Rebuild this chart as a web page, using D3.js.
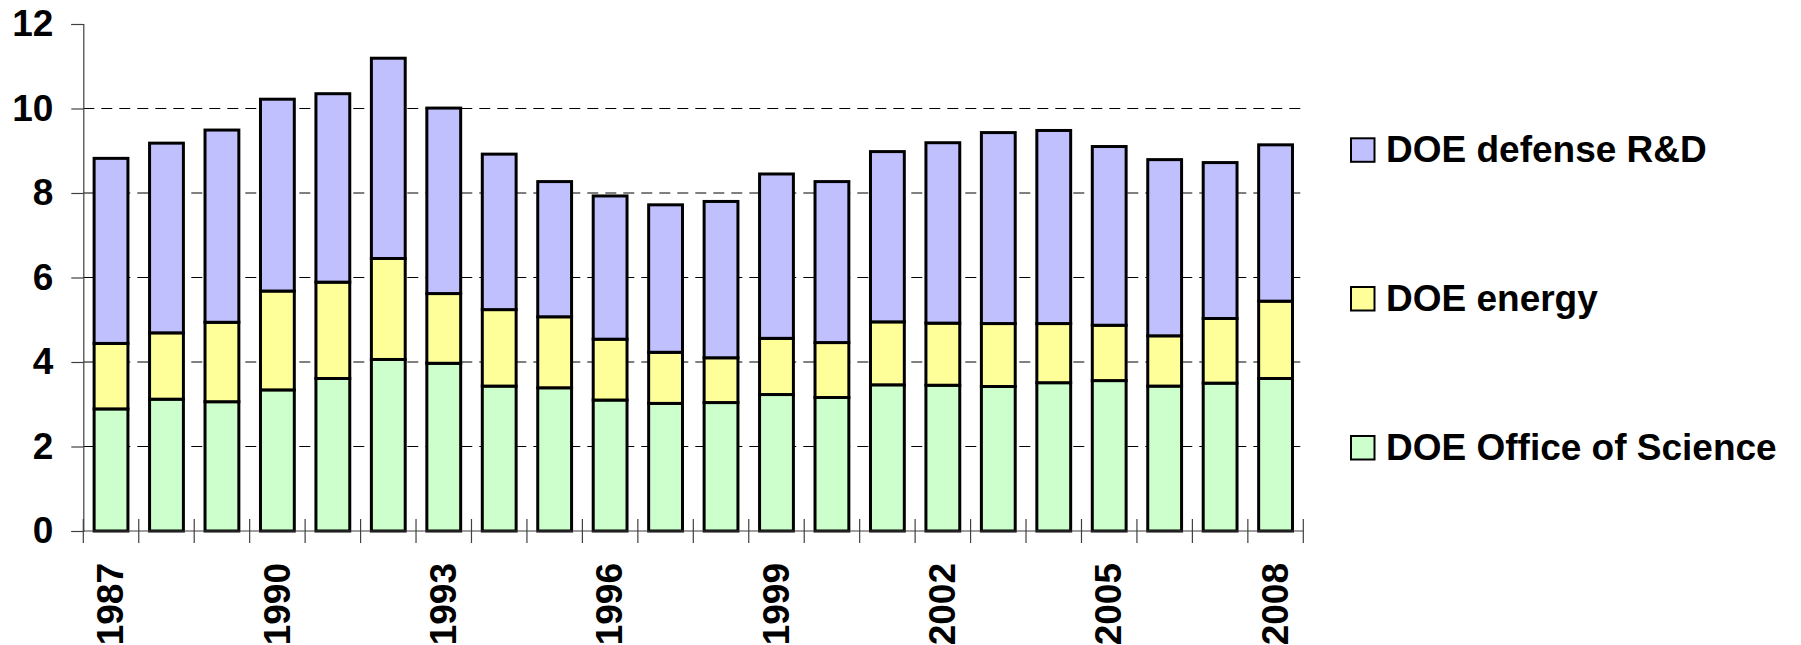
<!DOCTYPE html>
<html>
<head>
<meta charset="utf-8">
<script src="https://cdn.jsdelivr.net/npm/d3@7"></script>
<style>
  html, body { margin: 0; padding: 0; background: #fff; }
  svg { display: block; }
  text { font-family: "Liberation Sans", Arial, sans-serif; font-weight: bold; fill: #000; }
</style>
</head>
<body>
<svg id="chart" width="1801" height="645"></svg>
<script>
const years = ["1987","1988","1989","1990","1991","1992","1993","1994","1995","1996","1997",
               "1998","1999","2000","2001","2002","2003","2004","2005","2006","2007","2008"];
const officeOfScience = [2.89,3.12,3.06,3.34,3.61,4.06,3.97,3.43,3.39,3.10,3.02,
                         3.04,3.23,3.16,3.46,3.45,3.42,3.51,3.56,3.43,3.50,3.61];
const energy = [1.55,1.57,1.88,2.34,2.28,2.39,1.65,1.81,1.68,1.44,1.21,
                1.06,1.33,1.30,1.49,1.47,1.49,1.40,1.31,1.19,1.53,1.83];
const defenseRD = [4.38,4.49,4.55,4.54,4.46,4.74,4.39,3.68,3.20,3.39,3.49,
                   3.70,3.89,3.81,4.03,4.27,4.52,4.57,4.23,4.17,3.69,3.70];
const seriesNames = ["DOE Office of Science","DOE energy","DOE defense R&D"];
const seriesColors = ["#CCFFCC","#FFFF99","#C0C0FF"];
const yTicks = [0,2,4,6,8,10,12];
const shownYearLabels = ["1987","1990","1993","1996","1999","2002","2005","2008"];

(function () {
const svg = d3.select("#chart");
const mLeft = 83.3, mRight = 1303.3, mTop = 24, mBottom = 531;

const x = d3.scaleBand().domain(years).range([mLeft, mRight]).paddingInner(0.39).paddingOuter(0.195);
const y = d3.scaleLinear().domain([0, 12]).range([mBottom, mTop]);

// gridlines
svg.append("g").selectAll("line")
  .data(yTicks.filter(t => t > 0 && t < 12))
  .join("line")
  .attr("x1", mLeft).attr("x2", mRight)
  .attr("y1", d => y(d)).attr("y2", d => y(d))
  .attr("stroke", "#000").attr("stroke-width", 1)
  .attr("stroke-dasharray", "11,7");

// stacked data
const table = years.map((yr, i) => ({
  year: yr, s0: officeOfScience[i], s1: energy[i], s2: defenseRD[i]
}));
const stacked = d3.stack().keys(["s0","s1","s2"])(table);

svg.append("g").selectAll("g")
  .data(stacked)
  .join("g")
  .attr("fill", (d, i) => seriesColors[i])
  .selectAll("rect")
  .data(d => d)
  .join("rect")
  .attr("x", d => x(d.data.year))
  .attr("width", x.bandwidth())
  .attr("y", d => y(d[1]))
  .attr("height", d => y(d[0]) - y(d[1]))
  .attr("stroke", "#000")
  .attr("stroke-width", 3);

// y axis
const yAxis = d3.axisLeft(y).tickValues(yTicks).tickSize(12).tickPadding(18);
const yg = svg.append("g").attr("transform", `translate(${mLeft},0)`).call(yAxis);
yg.select(".domain").attr("stroke", "#404040").attr("stroke-width", 1.2);
yg.selectAll(".tick line").attr("stroke", "#404040").attr("stroke-width", 1.2);
yg.selectAll(".tick text").attr("font-size", 37).attr("font-family", "Liberation Sans, Arial, sans-serif")
  .attr("font-weight", "bold").attr("fill", "#000");

// x axis line and boundary ticks
const gap = x.step() - x.bandwidth();
const bounds = years.map(yr => x(yr) - gap / 2).concat([x(years[years.length - 1]) + x.bandwidth() + gap / 2]);
const xg = svg.append("g");
xg.append("line").attr("x1", mLeft).attr("x2", mRight).attr("y1", mBottom).attr("y2", mBottom)
  .attr("stroke", "#404040").attr("stroke-width", 1.2);
xg.selectAll("line.t").data(bounds).join("line").attr("class", "t")
  .attr("x1", d => d).attr("x2", d => d)
  .attr("y1", mBottom - 12).attr("y2", mBottom + 12)
  .attr("stroke", "#404040").attr("stroke-width", 1.2);

// x labels
const xAxis = d3.axisBottom(x).tickValues(shownYearLabels).tickSize(0).tickPadding(0);
const xl = svg.append("g").attr("transform", `translate(0,${mBottom})`).call(xAxis);
xl.select(".domain").remove();
xl.selectAll(".tick text")
  .attr("font-size", 37).attr("font-family", "Liberation Sans, Arial, sans-serif")
  .attr("font-weight", "bold").attr("fill", "#000")
  .attr("x", 0).attr("y", 0).attr("dy", "0.33em")
  .attr("text-anchor", "end")
  .attr("transform", "translate(0,32) rotate(-90)");

// legend
const legendOrder = [2, 1, 0];
const baselines = [162.3, 311, 460];
const lg = svg.append("g");
legendOrder.forEach((si, k) => {
  lg.append("rect")
    .attr("x", 1351).attr("y", baselines[k] - 24)
    .attr("width", 23.5).attr("height", 23.5)
    .attr("fill", seriesColors[si]).attr("stroke", "#000").attr("stroke-width", 2);
  lg.append("text")
    .attr("x", 1386).attr("y", baselines[k])
    .attr("font-size", 37)
    .text(seriesNames[si]);
});
})();
</script>
</body>
</html>
